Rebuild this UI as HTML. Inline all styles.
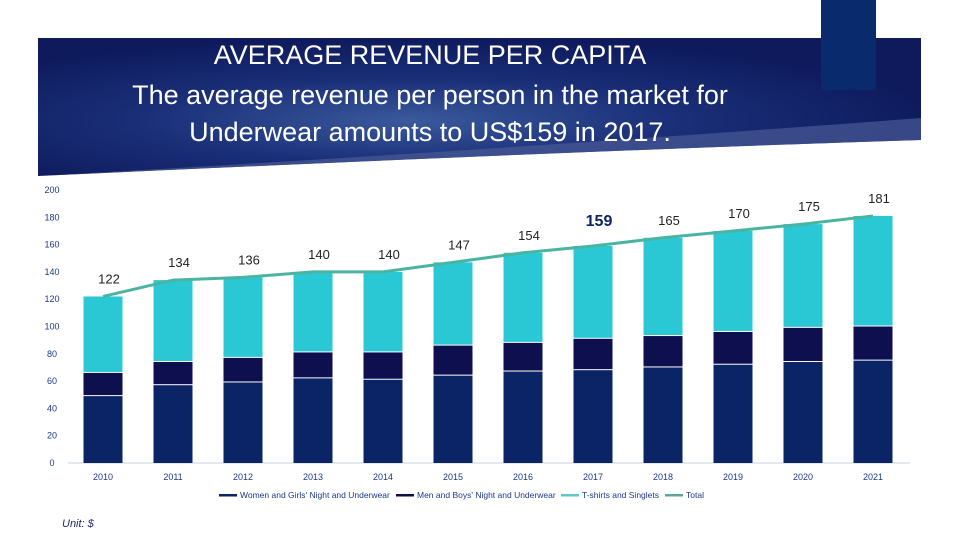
<!DOCTYPE html>
<html><head><meta charset="utf-8"><style>
body{margin:0;width:960px;height:540px;overflow:hidden;background:#fff;font-family:"Liberation Sans",sans-serif;}
svg{position:absolute;left:0;top:0}
</style></head><body>
<svg id="c" width="960" height="540">
<defs>
<radialGradient id="bg" cx="0.42" cy="0.6" r="0.6">
<stop offset="0" stop-color="#3a5a9c"/><stop offset="0.5" stop-color="#1a2f78"/><stop offset="1" stop-color="#0e1a5c"/>
</radialGradient>
</defs>
<path d="M38,38 H921 V140 Q600,150 38,176 Z" fill="url(#bg)"/>
<path d="M38,176 Q500,150 921,118 V140 Q600,150 38,176 Z" fill="#4a5a96" opacity="0.7"/>
<rect x="821" y="0" width="55" height="90" fill="#0a2a6e"/>
<text x="430" y="64" text-anchor="middle" font-size="27" fill="#fff">AVERAGE REVENUE PER CAPITA</text>
<text x="430" y="104" text-anchor="middle" font-size="27" fill="#fff">The average revenue per person in the market for</text>
<text x="430" y="141" text-anchor="middle" font-size="27" fill="#fff">Underwear amounts to US$159 in 2017.</text>
<g id="plot"></g>
<text x="62" y="527" font-size="11" font-style="italic" fill="#1a2a6e">Unit: $</text>
</svg>
<script>
const years=["2010","2011","2012","2013","2014","2015","2016","2017","2018","2019","2020","2021"];
const women=[49,57,59,62,61,64,67,68,70,72,74,75];
const men=[17,17,18,19,20,22,21,23,23,24,25,25];
const totals=[122,134,136,140,140,147,154,159,165,170,175,181];
const yTicks=[0,20,40,60,80,100,120,140,160,180,200];
const NS="http://www.w3.org/2000/svg";
const g=document.getElementById('plot');
const y0=463,yScale=273/200;
const y=v=>y0-v*yScale;
const x=i=>103+i*70;
const bw=39;
function mk(t,a){const e=document.createElementNS(NS,t);for(const k in a)e.setAttribute(k,a[k]);g.appendChild(e);return e;}
yTicks.forEach(v=>{const t=mk('text',{x:52,y:y(v)+3,'text-anchor':'middle','font-size':9,fill:'#1a3a8a'});t.textContent=v;

});
const ax=mk('line',{x1:68,x2:910,y1:y0,y2:y0,stroke:'#c8d0e0','stroke-width':1});


years.forEach((yr,i)=>{
 const w=women[i],m=men[i],ts=totals[i]-w-m;
 const r1=mk('rect',{x:x(i)-bw/2,y:y(w),width:bw,height:w*yScale,fill:'#0a2466'});
 
 
 const r2=mk('rect',{x:x(i)-bw/2,y:y(w+m),width:bw,height:m*yScale-1,fill:'#0e0f4e'});
 
 
 const r3=mk('rect',{x:x(i)-bw/2,y:y(w+m+ts),width:bw,height:ts*yScale-1,fill:'#2ac8d4'});
 
 
 const t=mk('text',{x:x(i),y:480,'text-anchor':'middle','font-size':9,fill:'#1a3a8a'});t.textContent=yr;
 
 
});
const pl=mk('polyline',{points:totals.map((v,i)=>x(i)+','+y(v)).join(' '),fill:'none',stroke:'#4ab4a0','stroke-width':3});


totals.forEach((v,i)=>{
 const bold=years[i]==="2017";
 const t=mk('text',{x:x(i)+6,y:y(v)-(bold?20:13),'text-anchor':'middle','font-size':bold?16:13,'font-weight':bold?'bold':'normal',fill:bold?'#0a2466':'#222'});
 t.textContent=v;
 
 
});
const leg=[["Women and Girls' Night and Underwear",'#0a2466',219],["Men and Boys' Night and Underwear",'#0e0f4e',396],["T-shirts and Singlets",'#5cc8cc',561],["Total",'#5aa898',665]];
leg.forEach(l=>{
 const ln=mk('rect',{x:l[2],y:494,width:18,height:2.5,fill:l[1]});
 
 
 const t=mk('text',{x:l[2]+21,y:498,'font-size':8.5,fill:'#1a3a8a'});t.textContent=l[0];
 
 
});
</script>
</body></html>
